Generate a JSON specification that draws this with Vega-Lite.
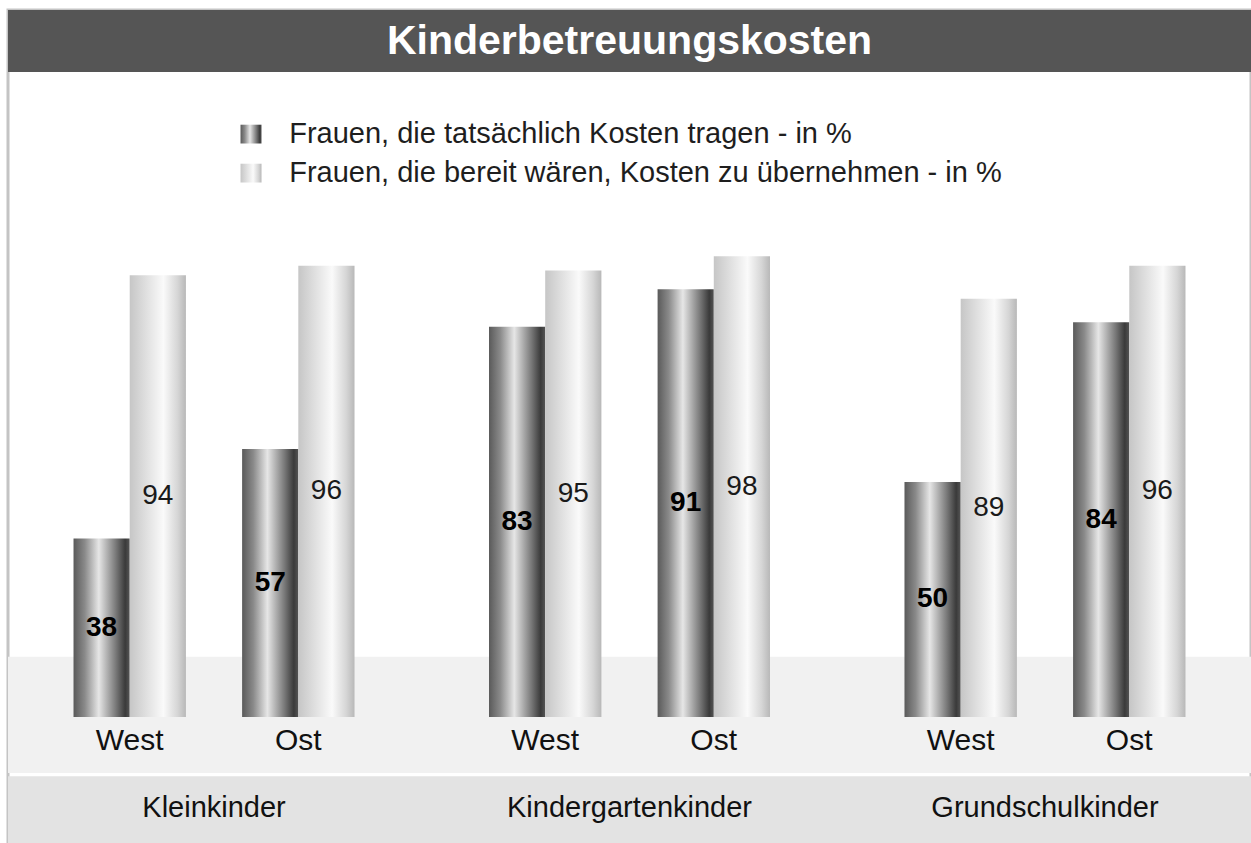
{
  "$schema": "https://vega.github.io/schema/vega-lite/v6.json",
  "width": 1243,
  "height": 833,
  "autosize": {"type": "none"},
  "padding": {"left": 8, "top": 10, "right": 0, "bottom": 0},
  "background": "white",
  "config": {
    "view": {"stroke": "#c4c4c4", "strokeWidth": 3},
    "font": "Liberation Sans"
  },
  "datasets": {
    "kosten": [
      {"gruppe": "Kleinkinder", "region": "West", "serie": "Frauen, die tatsächlich Kosten tragen - in %", "wert": 38},
      {"gruppe": "Kleinkinder", "region": "West", "serie": "Frauen, die bereit wären, Kosten zu übernehmen - in %", "wert": 94},
      {"gruppe": "Kleinkinder", "region": "Ost", "serie": "Frauen, die tatsächlich Kosten tragen - in %", "wert": 57},
      {"gruppe": "Kleinkinder", "region": "Ost", "serie": "Frauen, die bereit wären, Kosten zu übernehmen - in %", "wert": 96},
      {"gruppe": "Kindergartenkinder", "region": "West", "serie": "Frauen, die tatsächlich Kosten tragen - in %", "wert": 83},
      {"gruppe": "Kindergartenkinder", "region": "West", "serie": "Frauen, die bereit wären, Kosten zu übernehmen - in %", "wert": 95},
      {"gruppe": "Kindergartenkinder", "region": "Ost", "serie": "Frauen, die tatsächlich Kosten tragen - in %", "wert": 91},
      {"gruppe": "Kindergartenkinder", "region": "Ost", "serie": "Frauen, die bereit wären, Kosten zu übernehmen - in %", "wert": 98},
      {"gruppe": "Grundschulkinder", "region": "West", "serie": "Frauen, die tatsächlich Kosten tragen - in %", "wert": 50},
      {"gruppe": "Grundschulkinder", "region": "West", "serie": "Frauen, die bereit wären, Kosten zu übernehmen - in %", "wert": 89},
      {"gruppe": "Grundschulkinder", "region": "Ost", "serie": "Frauen, die tatsächlich Kosten tragen - in %", "wert": 84},
      {"gruppe": "Grundschulkinder", "region": "Ost", "serie": "Frauen, die bereit wären, Kosten zu übernehmen - in %", "wert": 96}
    ]
  },
  "layer": [
    {
      "data": {"values": [{"teil": "kopf"}]},
      "mark": {"type": "rect", "color": "#555555"},
      "encoding": {
        "y": {"datum": 150.4, "type": "quantitative", "scale": {"domain": [-26.8, 150.4], "nice": false, "zero": false}, "axis": null},
        "y2": {"datum": 137.2}
      }
    },
    {
      "data": {"values": [{"teil": "boden"}]},
      "mark": {"type": "rect", "color": "#f1f1f1"},
      "encoding": {
        "y": {"datum": 12.8, "type": "quantitative"},
        "y2": {"datum": -11.9}
      }
    },
    {
      "data": {"values": [{"teil": "band"}]},
      "mark": {"type": "rect", "color": "#e3e3e3"},
      "encoding": {
        "y": {"datum": -12.6, "type": "quantitative"},
        "y2": {"datum": -26.8}
      }
    },
    {
      "data": {"name": "kosten"},
      "transform": [
        {"filter": {"field": "serie", "equal": "Frauen, die tatsächlich Kosten tragen - in %"}},
        {"calculate": "datum.region + '|a'", "as": "slot"}
      ],
      "mark": {
        "type": "bar",
        "color": {"gradient": "linear", "stops": [{"offset": 0, "color": "#5a5a5a"}, {"offset": 0.2, "color": "#8a8a8a"}, {"offset": 0.45, "color": "#e6e6e6"}, {"offset": 0.75, "color": "#7a7a7a"}, {"offset": 0.92, "color": "#3a3a3a"}, {"offset": 1, "color": "#555555"}]}
      },
      "encoding": {
        "x": {"field": "gruppe", "type": "nominal", "sort": null, "axis": null, "scale": {"domain": ["Kleinkinder", "Kindergartenkinder", "Grundschulkinder"], "paddingInner": 0.3237, "paddingOuter": 0.1577}},
        "xOffset": {"field": "slot", "type": "nominal", "scale": {"domain": ["West|a", "West|b", "gap", "Ost|a", "Ost|b"], "paddingInner": 0, "paddingOuter": 0}},
        "y": {"field": "wert", "type": "quantitative"},
        "y2": {"datum": 0}
      }
    },
    {
      "data": {"name": "kosten"},
      "transform": [
        {"filter": {"field": "serie", "equal": "Frauen, die bereit wären, Kosten zu übernehmen - in %"}},
        {"calculate": "datum.region + '|b'", "as": "slot"}
      ],
      "mark": {
        "type": "bar",
        "color": {"gradient": "linear", "stops": [{"offset": 0, "color": "#c6c6c6"}, {"offset": 0.3, "color": "#e0e0e0"}, {"offset": 0.6, "color": "#fafafa"}, {"offset": 0.85, "color": "#d6d6d6"}, {"offset": 1, "color": "#b8b8b8"}]}
      },
      "encoding": {
        "x": {"field": "gruppe", "type": "nominal", "sort": null},
        "xOffset": {"field": "slot", "type": "nominal"},
        "y": {"field": "wert", "type": "quantitative"},
        "y2": {"datum": 0}
      }
    },
    {
      "data": {"name": "kosten"},
      "transform": [
        {"filter": {"field": "serie", "equal": "Frauen, die tatsächlich Kosten tragen - in %"}},
        {"filter": {"field": "gruppe", "equal": "Kleinkinder"}},
        {"filter": {"field": "region", "equal": "West"}}
      ],
      "mark": {
        "type": "bar",
        "width": 21,
        "xOffset": 37,
        "color": {"gradient": "linear", "stops": [{"offset": 0, "color": "#5a5a5a"}, {"offset": 0.2, "color": "#8a8a8a"}, {"offset": 0.45, "color": "#e6e6e6"}, {"offset": 0.75, "color": "#7a7a7a"}, {"offset": 0.92, "color": "#3a3a3a"}, {"offset": 1, "color": "#555555"}]}
      },
      "encoding": {
        "x": {"field": "gruppe", "type": "nominal", "sort": null},
        "y": {"datum": 126.0, "type": "quantitative"},
        "y2": {"datum": 122.0}
      }
    },
    {
      "data": {"name": "kosten"},
      "transform": [
        {"filter": {"field": "serie", "equal": "Frauen, die bereit wären, Kosten zu übernehmen - in %"}},
        {"filter": {"field": "gruppe", "equal": "Kleinkinder"}},
        {"filter": {"field": "region", "equal": "West"}}
      ],
      "mark": {
        "type": "bar",
        "width": 21,
        "xOffset": 37,
        "color": {"gradient": "linear", "stops": [{"offset": 0, "color": "#c6c6c6"}, {"offset": 0.3, "color": "#e0e0e0"}, {"offset": 0.6, "color": "#fafafa"}, {"offset": 0.85, "color": "#d6d6d6"}, {"offset": 1, "color": "#b8b8b8"}]}
      },
      "encoding": {
        "x": {"field": "gruppe", "type": "nominal", "sort": null},
        "y": {"datum": 117.7, "type": "quantitative"},
        "y2": {"datum": 113.7}
      }
    },
    {
      "data": {"name": "kosten"},
      "transform": [
        {"filter": {"field": "serie", "equal": "Frauen, die tatsächlich Kosten tragen - in %"}},
        {"filter": {"field": "gruppe", "equal": "Kleinkinder"}},
        {"filter": {"field": "region", "equal": "West"}},
        {"calculate": "'Ost|a'", "as": "slot"}
      ],
      "mark": {"type": "text", "font": "Liberation Sans", "fontSize": 29, "color": "#1e1e1e", "baseline": "middle", "align": "left", "dx": 19},
      "encoding": {
        "x": {"field": "gruppe", "type": "nominal", "sort": null},
        "xOffset": {"field": "slot", "type": "nominal"},
        "y": {"datum": 124.0, "type": "quantitative"},
        "text": {"field": "serie", "type": "nominal"}
      }
    },
    {
      "data": {"name": "kosten"},
      "transform": [
        {"filter": {"field": "serie", "equal": "Frauen, die bereit wären, Kosten zu übernehmen - in %"}},
        {"filter": {"field": "gruppe", "equal": "Kleinkinder"}},
        {"filter": {"field": "region", "equal": "West"}},
        {"calculate": "'Ost|a'", "as": "slot"}
      ],
      "mark": {"type": "text", "font": "Liberation Sans", "fontSize": 29, "color": "#1e1e1e", "baseline": "middle", "align": "left", "dx": 19},
      "encoding": {
        "x": {"field": "gruppe", "type": "nominal", "sort": null},
        "xOffset": {"field": "slot", "type": "nominal"},
        "y": {"datum": 115.7, "type": "quantitative"},
        "text": {"field": "serie", "type": "nominal"}
      }
    },
    {
      "data": {"name": "kosten"},
      "transform": [
        {"filter": {"field": "serie", "equal": "Frauen, die tatsächlich Kosten tragen - in %"}},
        {"calculate": "datum.region + '|a'", "as": "slot"},
        {"calculate": "datum.wert / 2", "as": "mitte"}
      ],
      "mark": {"type": "text", "font": "Liberation Sans", "fontSize": 28, "fontWeight": "bold", "color": "#000000", "baseline": "middle", "align": "center"},
      "encoding": {
        "x": {"field": "gruppe", "type": "nominal", "sort": null},
        "xOffset": {"field": "slot", "type": "nominal"},
        "y": {"field": "mitte", "type": "quantitative"},
        "text": {"field": "wert", "type": "quantitative"}
      }
    },
    {
      "data": {"name": "kosten"},
      "transform": [
        {"filter": {"field": "serie", "equal": "Frauen, die bereit wären, Kosten zu übernehmen - in %"}},
        {"calculate": "datum.region + '|b'", "as": "slot"},
        {"calculate": "datum.wert / 2", "as": "mitte"}
      ],
      "mark": {"type": "text", "font": "Liberation Sans", "fontSize": 28, "color": "#1a1a1a", "baseline": "middle", "align": "center"},
      "encoding": {
        "x": {"field": "gruppe", "type": "nominal", "sort": null},
        "xOffset": {"field": "slot", "type": "nominal"},
        "y": {"field": "mitte", "type": "quantitative"},
        "text": {"field": "wert", "type": "quantitative"}
      }
    },
    {
      "data": {"name": "kosten"},
      "transform": [
        {"filter": {"field": "serie", "equal": "Frauen, die tatsächlich Kosten tragen - in %"}},
        {"calculate": "datum.region + '|a'", "as": "slot"}
      ],
      "mark": {"type": "text", "font": "Liberation Sans", "fontSize": 30, "color": "#111111", "baseline": "middle", "align": "center", "dx": 28},
      "encoding": {
        "x": {"field": "gruppe", "type": "nominal", "sort": null},
        "xOffset": {"field": "slot", "type": "nominal"},
        "y": {"datum": -5.1, "type": "quantitative"},
        "text": {"field": "region", "type": "nominal"}
      }
    },
    {
      "data": {"name": "kosten"},
      "transform": [
        {"filter": {"field": "serie", "equal": "Frauen, die tatsächlich Kosten tragen - in %"}},
        {"filter": {"field": "region", "equal": "West"}}
      ],
      "mark": {"type": "text", "font": "Liberation Sans", "fontSize": 29, "color": "#111111", "baseline": "middle", "align": "center"},
      "encoding": {
        "x": {"field": "gruppe", "type": "nominal", "sort": null},
        "y": {"datum": -19.4, "type": "quantitative"},
        "text": {"field": "gruppe", "type": "nominal"}
      }
    },
    {
      "data": {"values": [{"titel": "Kinderbetreuungskosten", "gruppe": "Kindergartenkinder"}]},
      "mark": {"type": "text", "font": "Liberation Sans", "color": "white", "fontSize": 41, "fontWeight": "bold", "baseline": "middle", "align": "center"},
      "encoding": {
        "x": {"field": "gruppe", "type": "nominal", "sort": null},
        "y": {"datum": 143.6, "type": "quantitative"},
        "text": {"field": "titel", "type": "nominal"}
      }
    }
  ]
}
